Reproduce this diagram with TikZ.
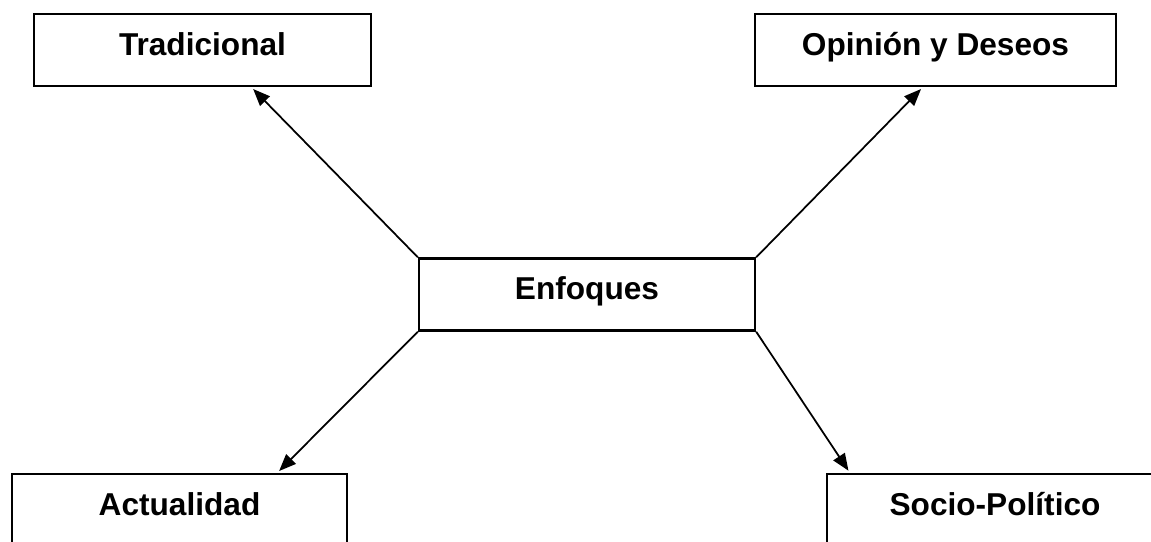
\documentclass[tikz,border=0pt]{standalone}
\usepackage{fontspec}
\setmainfont{Liberation Sans}
\usetikzlibrary{calc,arrows.meta}

\tikzset{
  caja/.style={draw, line width=1.4pt, minimum width=#1, minimum height=1.44cm,
    inner sep=0pt, text height=0.46cm, text depth=0.25cm,
    font=\bfseries\fontsize{18}{21}\selectfont},
  flecha/.style={line width=1pt, -{Triangle[length=0.34cm,width=0.27cm]}, shorten >=0.05cm}
}

\begin{document}
\begin{tikzpicture}[x=0.02cm, y=-0.02cm]
      \clip (0,0) rectangle (1151,541);
      % cajas
      \node[caja=6.74cm] (trad) at (202.5,50) {Tradicional};
      \node[caja=7.22cm] (opin) at (935.5,50) {Opinión y Deseos};
      \node[caja=6.72cm] (enf) at (587,294.5) {Enfoques};
      \node[caja=6.70cm] (actu) at (179.5,510) {Actualidad};
      \node[caja=6.72cm] (socio) at (995,510) {Socio-Político};

      % flechas
      \draw[flecha] (enf.north west) -- ($(trad.south west)!0.644!(trad.south east)$);
      \draw[flecha] (enf.north east) -- ($(opin.south west)!0.465!(opin.south east)$);
      \draw[flecha] (enf.south west) -- ($(actu.north west)!0.79!(actu.north east)$);
      \draw[flecha] (enf.south east) -- ($(socio.north west)!0.071!(socio.north east)$);
\end{tikzpicture}
\end{document}
